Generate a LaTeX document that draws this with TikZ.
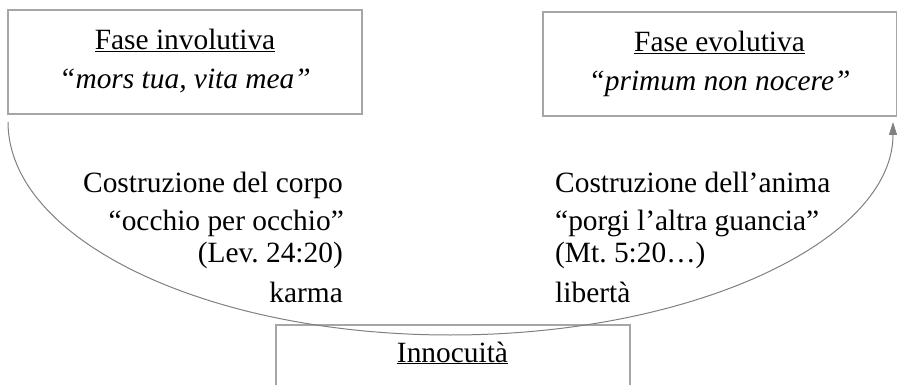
\documentclass[tikz,border=0pt]{standalone}
\usepackage{fontspec}
\setmainfont{Liberation Serif}
\usetikzlibrary{arrows.meta}
\frenchspacing
\definecolor{boxgray}{HTML}{A6A6A6}
\definecolor{arcgray}{HTML}{808080}
\tikzset{
  box/.style={draw=boxgray, line width=2pt, minimum width=354pt, minimum height=104pt, inner sep=0pt},
  txt/.style={font=\fontsize{29.4}{35}\selectfont\frenchspacing, inner sep=0pt, text=black},
  arcline/.style={draw=arcgray, line width=1pt},
}
\begin{document}
\begin{tikzpicture}[x=1pt,y=-1pt]
\useasboundingbox (0,0) rectangle (897,385);
\clip (0,0) rectangle (897,385);
% boxes
\node[box] (inv) at (185,62) {};
\node[box] (evo) at (719.5,64.5) {};
\node[box, minimum height=120pt, anchor=north] (inn) at (452.5,324) {};
% box texts
\node[txt, anchor=base] (invt) at (185,50) {\underline{Fase involutiva}};
\node[txt, anchor=base] (invq) at (185,89) {\itshape “mors tua, vita mea”};
\node[txt, anchor=base] (evot) at (719.5,52) {\underline{Fase evolutiva}};
\node[txt, anchor=base] (evoq) at (719.5,91) {\itshape “primum non nocere”};
\node[txt, anchor=base] (innt) at (452.5,362) {\underline{Innocuità}};
% left side texts
\node[txt, anchor=base east] (l1) at (343,193) {Costruzione del corpo};
\node[txt, anchor=base east] (l2) at (344,230) {“occhio per occhio”};
\node[txt, anchor=base east] (l3) at (343,262) {(Lev. 24:20)};
\node[txt, anchor=base east] (l4) at (343,302) {karma};
% right side texts
\node[txt, anchor=base west] (r1) at (555,193) {Costruzione dell’anima};
\node[txt, anchor=base west] (r2) at (555,230) {“porgi l’altra guancia”};
\node[txt, anchor=base west] (r3) at (555,262) {(Mt. 5:20…)};
\node[txt, anchor=base west] (r4) at (555,302) {libertà};
% arc
\coordinate (arcstart) at (8,122);
\draw[arcline, -{Triangle[width=8pt,length=13pt]}, arcgray]
  (arcstart) arc[start angle=180, end angle=360, x radius=442.5pt, y radius=213pt];
\end{tikzpicture}
\end{document}
